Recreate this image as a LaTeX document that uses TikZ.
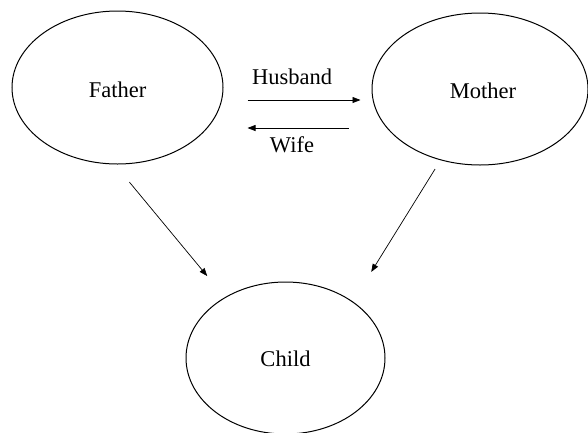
\documentclass[tikz,border=0pt]{standalone}
\usepackage{fontspec}
\setmainfont{Liberation Serif}
\usetikzlibrary{shapes.geometric,arrows.meta}
\begin{document}
\begin{tikzpicture}[x=1pt,y=-1pt,
  every node/.style={font=\fontsize{22.5}{26}\selectfont},
  person/.style={ellipse,draw,line width=1pt,inner sep=0pt},
  arr/.style={draw,line width=0.7pt,-{Triangle[length=8pt,width=6pt]}},
  lbl/.style={anchor=base,inner sep=0pt}]
\useasboundingbox (0,0) rectangle (588,432);
\node[person,minimum width=211pt,minimum height=153pt] (father) at (117.5,87.5) {};
\node at (117.5,90) (ftext) {Father};
\node[person,minimum width=216pt,minimum height=152pt] (mother) at (480,89) {};
\node at (483,91) (mtext) {Mother};
\node[person,minimum width=199pt,minimum height=152pt] (child) at (285.5,358) {};
\node at (285.5,359) (ctext) {Child};
\draw[arr,shorten <=24pt,shorten >=11pt] ([yshift=-12.5pt]father.east) -- node[lbl,pos=0.463,yshift=16pt] (husband) {Husband} ([yshift=-11pt]mother.west);
\draw[arr,shorten <=23pt,shorten >=24pt] ([yshift=-39pt]mother.west) -- node[lbl,pos=0.537,yshift=-24.6pt] (wife) {Wife} ([yshift=-40.5pt]father.east);
\draw[arr,shorten <=22.9pt,shorten >=27.5pt] (father.268) -- (child.135);
\draw[arr,shorten <=10.4pt,shorten >=34.8pt] (mother.241) -- (child.40);
\end{tikzpicture}
\end{document}
